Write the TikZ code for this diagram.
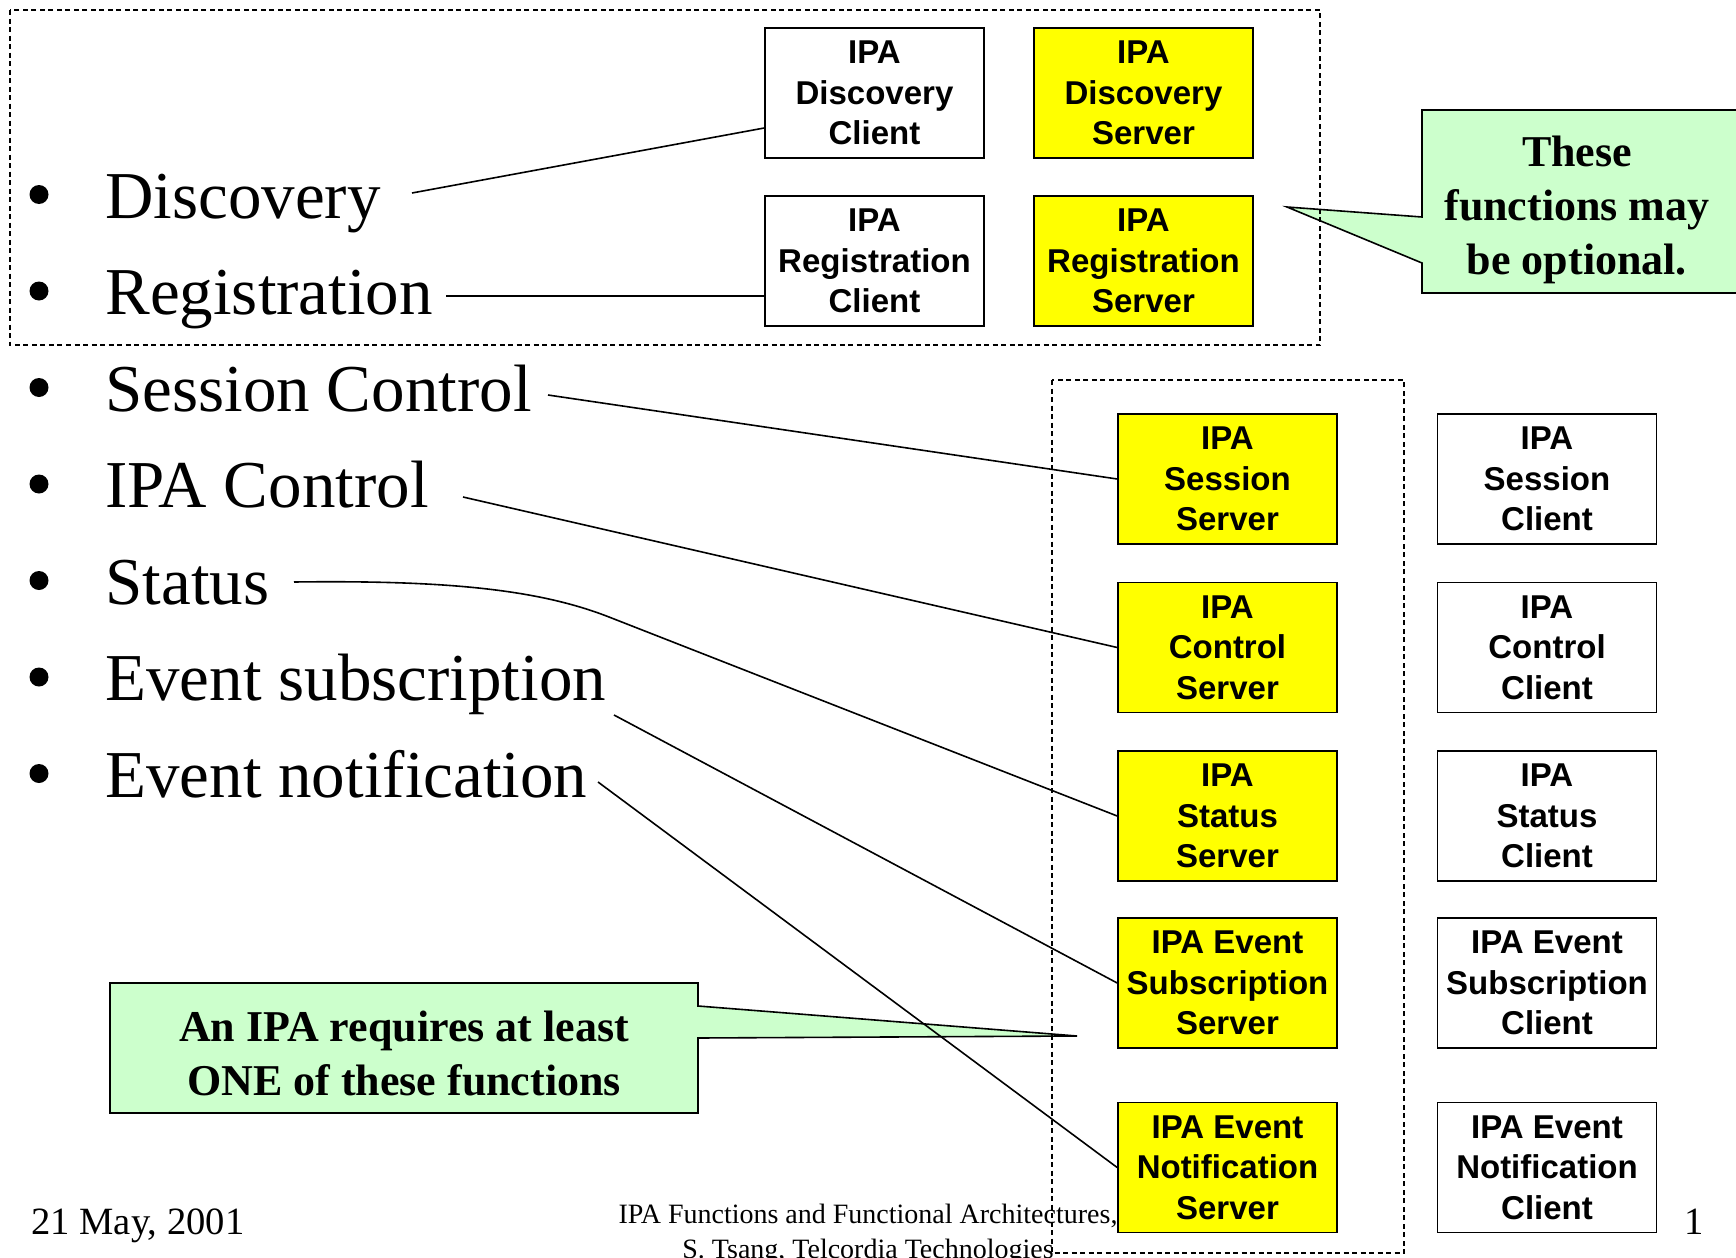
\documentclass[tikz,border=0pt]{standalone}
\usepackage{fontspec}
\setmainfont{Liberation Serif}
\newfontfamily\arialfont{Liberation Sans}
\definecolor{boxyellow}{HTML}{FFFF00}
\definecolor{calloutgreen}{HTML}{CCFFCC}
\begin{document}
\begin{tikzpicture}[x=0.5pt,y=-0.5pt,
  fbox/.style={draw=black, line width=0.8pt, minimum width=109.5pt, minimum height=65pt, inner sep=0pt, align=center, font=\arialfont\bfseries\fontsize{16.5}{20.3}\selectfont},
  srv/.style={fbox, fill=boxyellow},
  cli/.style={fbox, fill=white},
  item/.style={anchor=base west, inner sep=0pt, font=\fontsize{33.5}{40}\selectfont},
  conn/.style={draw=black, line width=0.8pt},
  dashbox/.style={draw=black, line width=0.6pt, dash pattern=on 2.5pt off 1.75pt},
  callout/.style={draw=black, line width=0.8pt, fill=calloutgreen},
  callouttext/.style={align=center, inner sep=0pt, font=\bfseries\fontsize{22}{27}\selectfont},
  foot/.style={inner sep=0pt}
]
\useasboundingbox (0,0) rectangle (1736,1258);
\fill[white] (0,0) rectangle (1736,1258);

% callouts
\draw[callout] (1422,110) -- (1745,110) -- (1745,293) -- (1422,293) -- (1422,263) -- (1287,207) -- (1422,217) -- cycle;
\node[callouttext] (opt) at (1577,210) {These\\functions may\\be optional.};
\draw[callout] (110,983) -- (698,983) -- (698,1006) -- (1077,1036) -- (698,1038) -- (698,1113) -- (110,1113) -- cycle;
\node[callouttext] (req) at (404,1053) {An IPA requires at least\\ONE of these functions};

% dashed groups
\draw[dashbox] (10,10) rectangle (1320,345);
\draw[dashbox] (1052,380) rectangle (1404,1253);

% bullets and items
\foreach \yy in {218,314.5,411,507.5,604,700.5,797} \fill (39,\yy-23.5) circle (4.75pt);
\node[item] (t1) at (105,218) {Discovery};
\node[item] (t2) at (105,314.5) {Registration};
\node[item] (t3) at (105,411) {Session Control};
\node[item] (t4) at (105,507.5) {IPA Control};
\node[item] (t5) at (105,604) {Status};
\node[item] (t6) at (105,700.5) {Event subscription};
\node[item] (t7) at (105,797) {Event notification};

% function boxes
\node[cli] (dc) at (874.5,93) {IPA\\Discovery\\Client};
\node[srv] (ds) at (1143.5,93) {IPA\\Discovery\\Server};
\node[cli] (rc) at (874.5,261) {IPA\\Registration\\Client};
\node[srv] (rs) at (1143.5,261) {IPA\\Registration\\Server};

\node[srv] (ss) at (1227.5,479) {IPA\\Session\\Server};
\node[cli] (sc) at (1547,479) {IPA\\Session\\Client};
\node[srv] (cs) at (1227.5,647.5) {IPA\\Control\\Server};
\node[cli] (cc) at (1547,647.5) {IPA\\Control\\Client};
\node[srv] (sts) at (1227.5,816) {IPA\\Status\\Server};
\node[cli] (stc) at (1547,816) {IPA\\Status\\Client};
\node[srv] (es) at (1227.5,983) {IPA Event\\Subscription\\Server};
\node[cli] (ec) at (1547,983) {IPA Event\\Subscription\\Client};
\node[srv] (ns) at (1227.5,1167.5) {IPA Event\\Notification\\Server};
\node[cli] (nc) at (1547,1167.5) {IPA Event\\Notification\\Client};

% connectors
\coordinate (e1) at (412,193);
\coordinate (e2) at (446,296);
\coordinate (e3) at (548,395);
\coordinate (e4) at (463,497);
\coordinate (e5) at (294,582);
\coordinate (e6) at (614,715);
\coordinate (e7) at (598,782);
\draw[conn] (e1) -- ([yshift=-17.5pt]dc.west);
\draw[conn] (e2) -- ([yshift=-17.5pt]rc.west);
\draw[conn] (e3) -- (ss.west);
\draw[conn] (e4) -- (cs.west);
\draw[conn] (e5) .. controls (450,580) and (540,590) .. (609,617) -- (sts.west);
\draw[conn] (e6) -- (es.west);
\draw[conn] (e7) -- (ns.west);

% footer
\node[foot, anchor=base west, font=\fontsize{19.3}{23}\selectfont] (date) at (31,1234) {21 May, 2001};
\node[foot, anchor=base, font=\fontsize{14}{18}\selectfont] (title1) at (868,1223) {IPA Functions and Functional Architectures,};
\node[foot, anchor=base, font=\fontsize{14}{18}\selectfont] (title2) at (868,1258) {S. Tsang, Telcordia Technologies};
\node[foot, anchor=base, font=\fontsize{19.3}{23}\selectfont] (pg) at (1694,1234) {1};
\end{tikzpicture}
\end{document}
